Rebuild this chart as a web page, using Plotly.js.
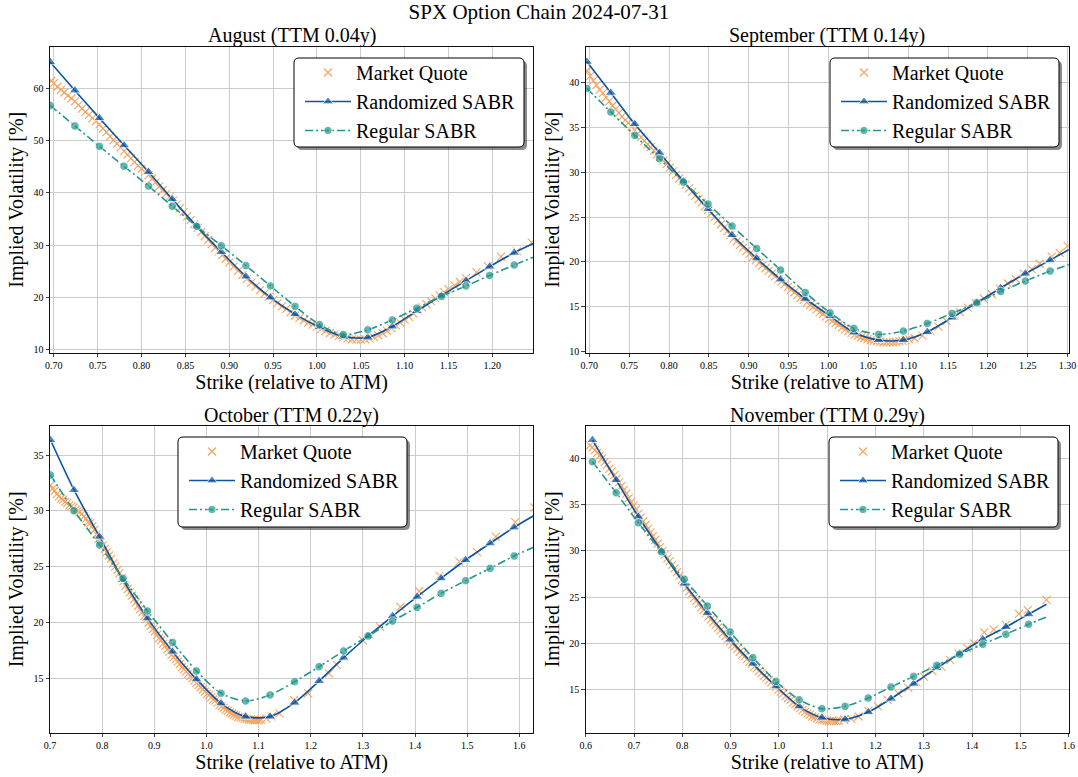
<!DOCTYPE html>
<html>
<head>
<meta charset="utf-8">
<script src="https://cdn.plot.ly/plotly-3.0.1.min.js"></script>
<style>html,body{margin:0;padding:0;background:#fff}</style>
</head>
<body>
<div id="chart" style="width:1078px;height:777px"></div>
<script>
// ---------------- DATA ----------------
const suptitleText = "SPX Option Chain 2024-07-31";
const panelTitles = ["August (TTM 0.04y)", "September (TTM 0.14y)", "October (TTM 0.22y)", "November (TTM 0.29y)"];
const seriesNames = ["Market Quote", "Randomized SABR", "Regular SABR"];
const xTitle = "Strike (relative to ATM)";
const yTitle = "Implied Volatility [%]";

// August
const augMarketStrike = [0.697,0.700,0.704,0.708,0.712,0.716,0.720,0.724,0.728,0.732,0.736,0.740,0.744,0.748,0.752,0.756,0.760,0.764,0.768,0.772,0.776,0.780,0.784,0.788,0.792,0.796,0.800,0.804,0.808,0.812,0.816,0.820,0.824,0.828,0.832,0.836,0.840,0.844,0.848,0.852,0.856,0.860,0.864,0.868,0.872,0.876,0.880,0.884,0.888,0.892,0.896,0.900,0.905,0.910,0.915,0.920,0.925,0.930,0.935,0.940,0.945,0.950,0.955,0.960,0.965,0.970,0.975,0.980,0.985,0.990,0.995,1.000,1.005,1.010,1.015,1.020,1.025,1.030,1.035,1.040,1.045,1.050,1.055,1.060,1.065,1.070,1.075,1.080,1.085,1.090,1.095,1.100,1.105,1.110,1.115,1.120,1.125,1.130,1.135,1.140,1.145,1.150,1.157,1.163,1.170,1.182,1.195,1.210,1.228,1.245];
const augMarketIV = [61.4,61.0,60.3,59.7,59.2,58.6,58.1,57.5,56.8,56.1,55.5,54.9,54.3,53.7,53.1,52.3,51.6,50.8,50.1,49.4,48.7,48.0,47.3,46.6,45.9,45.2,44.6,44.0,43.4,42.7,42.0,41.2,40.5,39.8,39.2,38.5,37.8,37.1,36.3,35.5,34.8,34.0,33.3,32.5,31.7,31.0,30.2,29.5,28.8,28.1,27.4,26.7,25.9,25.1,24.3,23.5,22.8,22.1,21.4,20.7,20.1,19.5,18.9,18.3,17.8,17.2,16.5,16.1,15.6,15.2,14.8,14.4,14.0,13.6,13.2,12.9,12.6,12.35,12.15,12.0,11.95,11.95,12.0,12.15,12.4,12.75,13.15,13.6,14.1,14.65,15.2,15.75,16.3,16.9,17.5,18.1,18.7,19.3,19.8,20.4,21.0,21.6,22.3,23.0,23.7,24.8,26.0,27.8,28.8,30.5];
const augModelStrike = [0.696,0.724,0.752,0.780,0.808,0.835,0.863,0.891,0.919,0.947,0.975,1.003,1.030,1.058,1.086,1.114,1.142,1.170,1.197,1.225,1.247];
const augRandIV = [65.0,59.6,54.3,49.1,44.0,38.8,33.6,28.7,24.0,20.0,16.8,14.3,12.5,12.35,14.45,17.4,20.35,23.2,25.9,28.55,30.3];
const augRegIV = [56.7,52.8,48.9,45.1,41.3,37.45,33.6,29.9,26.1,22.2,18.3,14.8,12.9,13.8,15.7,17.95,20.2,22.2,24.2,26.2,27.7];

// September
const sepMarketStrike = [0.697,0.701,0.705,0.709,0.713,0.717,0.721,0.725,0.729,0.733,0.737,0.741,0.745,0.749,0.753,0.757,0.761,0.765,0.769,0.773,0.777,0.781,0.785,0.789,0.793,0.797,0.801,0.805,0.809,0.813,0.817,0.821,0.825,0.829,0.833,0.837,0.841,0.845,0.849,0.853,0.857,0.861,0.865,0.869,0.873,0.877,0.881,0.885,0.889,0.893,0.897,0.901,0.905,0.909,0.913,0.917,0.921,0.925,0.929,0.933,0.937,0.941,0.945,0.949,0.953,0.957,0.961,0.965,0.969,0.973,0.977,0.981,0.985,0.989,0.993,0.997,1.001,1.005,1.009,1.013,1.017,1.021,1.025,1.029,1.033,1.037,1.041,1.045,1.049,1.053,1.057,1.061,1.065,1.069,1.073,1.077,1.081,1.085,1.089,1.093,1.097,1.101,1.108,1.118,1.128,1.138,1.148,1.158,1.165,1.175,1.185,1.195,1.205,1.215,1.225,1.235,1.245,1.255,1.265,1.280,1.290,1.300];
const sepMarketIV = [41.3,40.7,40.2,39.7,39.2,38.8,38.3,37.9,37.4,37.0,36.6,36.2,35.8,35.5,35.1,34.7,34.3,33.9,33.5,33.1,32.8,32.4,32.0,31.7,31.3,30.9,30.5,30.1,29.7,29.3,29.0,28.6,28.2,27.8,27.4,27.0,26.6,26.2,25.8,25.4,25.0,24.6,24.2,23.8,23.4,23.0,22.6,22.3,21.9,21.6,21.2,20.9,20.5,20.2,19.9,19.6,19.3,19.0,18.7,18.4,18.1,17.8,17.5,17.2,16.9,16.6,16.3,16.0,15.8,15.5,15.2,15.0,14.7,14.4,14.2,13.9,13.7,13.4,13.2,13.0,12.7,12.5,12.3,12.1,11.9,11.8,11.6,11.5,11.4,11.3,11.2,11.15,11.1,11.05,11.05,11.05,11.05,11.1,11.15,11.2,11.3,11.4,11.5,11.8,12.3,12.8,13.4,14.0,14.4,14.9,15.4,15.9,16.4,17.0,17.6,18.1,18.7,19.2,19.8,20.6,21.0,21.8];
const sepModelStrike = [0.697,0.727,0.757,0.788,0.818,0.849,0.879,0.910,0.940,0.971,1.002,1.032,1.063,1.094,1.124,1.155,1.186,1.216,1.247,1.278,1.302];
const sepRandIV = [42.3,38.85,35.36,32.16,29.0,25.9,23.0,20.4,18.05,15.9,13.97,12.15,11.3,11.3,12.2,13.8,15.45,17.1,18.7,20.2,21.4];
const sepRegIV = [39.33,36.7,34.1,31.5,28.9,26.45,24.0,21.5,19.1,16.6,14.34,12.6,11.93,12.3,13.15,14.27,15.45,16.7,17.87,18.98,19.7];

// October
const octMarketStrike = [0.701,0.705,0.709,0.713,0.717,0.721,0.725,0.729,0.733,0.737,0.741,0.745,0.749,0.753,0.757,0.761,0.765,0.769,0.773,0.777,0.781,0.785,0.789,0.793,0.797,0.801,0.805,0.809,0.813,0.817,0.821,0.825,0.829,0.833,0.837,0.841,0.845,0.849,0.853,0.857,0.861,0.865,0.869,0.873,0.877,0.881,0.885,0.889,0.893,0.897,0.901,0.905,0.909,0.913,0.917,0.921,0.925,0.929,0.933,0.937,0.941,0.945,0.949,0.953,0.957,0.961,0.965,0.969,0.973,0.977,0.981,0.985,0.989,0.993,0.997,1.001,1.005,1.009,1.013,1.017,1.021,1.025,1.029,1.033,1.037,1.041,1.045,1.049,1.053,1.057,1.061,1.065,1.069,1.073,1.077,1.081,1.085,1.089,1.093,1.097,1.101,1.105,1.115,1.125,1.140,1.168,1.195,1.235,1.250,1.300,1.333,1.372,1.408,1.447,1.485,1.519,1.555,1.592,1.629];
const octMarketIV = [32.3,32.0,31.8,31.5,31.3,31.1,31.0,30.8,30.7,30.5,30.4,30.3,30.1,30.0,29.9,29.7,29.5,29.3,29.0,28.9,28.6,28.3,27.9,27.5,27.2,26.9,26.6,26.3,26.0,25.7,25.3,25.0,24.7,24.4,24.0,23.7,23.3,23.0,22.7,22.4,22.1,21.8,21.5,21.2,20.9,20.6,20.3,20.0,19.7,19.4,19.2,18.9,18.6,18.4,18.1,17.9,17.6,17.4,17.1,16.9,16.7,16.5,16.3,16.0,15.8,15.6,15.4,15.2,15.0,14.8,14.6,14.4,14.2,14.0,13.8,13.6,13.5,13.3,13.1,13.0,12.8,12.6,12.5,12.35,12.2,12.1,11.95,11.85,11.75,11.65,11.55,11.5,11.45,11.4,11.35,11.3,11.3,11.25,11.25,11.25,11.25,11.3,11.4,11.6,11.87,13.06,13.66,15.45,16.2,18.4,19.6,21.4,22.8,24.2,25.45,26.3,27.7,29.0,30.3];
const octModelStrike = [0.701,0.746,0.795,0.840,0.887,0.935,0.981,1.028,1.075,1.122,1.169,1.216,1.263,1.310,1.357,1.404,1.450,1.497,1.544,1.590,1.630];
const octRandIV = [36.34,31.87,27.69,23.81,20.37,17.39,14.91,12.76,11.57,11.57,12.82,14.76,16.85,18.79,20.58,22.31,23.96,25.6,27.09,28.52,29.63];
const octRegIV = [33.21,30.01,26.94,23.96,21.03,18.22,15.66,13.66,12.97,13.51,14.7,16.04,17.45,18.79,20.13,21.36,22.61,23.75,24.85,25.96,26.79];

// November
const novMarketStrike = [0.609,0.614,0.619,0.624,0.629,0.634,0.639,0.644,0.649,0.654,0.659,0.664,0.669,0.674,0.679,0.684,0.689,0.694,0.699,0.704,0.709,0.714,0.719,0.724,0.729,0.734,0.739,0.744,0.749,0.754,0.759,0.764,0.769,0.774,0.779,0.784,0.789,0.794,0.799,0.804,0.809,0.814,0.819,0.824,0.829,0.834,0.839,0.844,0.849,0.854,0.859,0.864,0.869,0.874,0.879,0.884,0.889,0.894,0.899,0.904,0.909,0.914,0.919,0.924,0.929,0.934,0.939,0.944,0.949,0.954,0.959,0.964,0.969,0.974,0.979,0.984,0.989,0.994,0.999,1.004,1.009,1.014,1.019,1.024,1.029,1.034,1.039,1.044,1.049,1.054,1.059,1.064,1.069,1.074,1.079,1.084,1.089,1.094,1.099,1.104,1.109,1.114,1.119,1.124,1.135,1.150,1.165,1.185,1.205,1.225,1.247,1.268,1.285,1.300,1.318,1.336,1.355,1.372,1.390,1.404,1.425,1.445,1.470,1.497,1.515,1.554];
const novMarketIV = [41.4,41.2,40.9,40.6,40.3,40.0,39.6,39.3,38.9,38.6,38.2,37.8,37.4,37.0,36.6,36.2,35.7,35.3,34.9,34.5,34.0,33.6,33.2,32.8,32.4,32.0,31.6,31.2,30.8,30.4,30.0,29.6,29.2,28.9,28.5,28.1,27.7,27.3,26.9,26.5,26.0,25.6,25.3,24.9,24.6,24.3,23.9,23.6,23.3,22.9,22.6,22.3,22.0,21.7,21.4,21.1,20.8,20.5,20.2,19.9,19.7,19.4,19.1,18.8,18.6,18.3,18.0,17.8,17.5,17.3,17.0,16.8,16.5,16.3,16.0,15.8,15.5,15.3,15.0,14.8,14.6,14.3,14.1,13.9,13.6,13.4,13.2,13.0,12.8,12.6,12.4,12.3,12.1,12.0,11.9,11.8,11.75,11.7,11.65,11.6,11.6,11.6,11.6,11.65,11.75,11.85,12.1,12.7,13.2,13.9,14.6,15.2,15.8,16.4,17.0,17.5,18.2,18.9,19.5,20.0,21.2,21.5,22.0,23.2,23.6,24.7];
const novModelStrike = [0.614,0.663,0.709,0.757,0.804,0.852,0.899,0.946,0.994,1.042,1.089,1.137,1.185,1.232,1.279,1.327,1.374,1.422,1.470,1.517,1.554];
const novRandIV = [41.98,37.66,33.69,29.97,26.47,23.30,20.41,17.81,15.36,13.2,11.97,11.79,12.58,14.03,15.65,17.35,18.9,20.45,21.78,23.15,24.24];
const novRegIV = [39.64,36.28,33.04,29.9,26.94,24.05,21.24,18.46,15.9,13.92,12.94,13.2,14.1,15.29,16.44,17.63,18.82,19.91,20.99,22.07,22.86];

// ---------------- STYLE / LAYOUT ----------------
const W = 1078, H = 777;
const FONT = "Liberation Serif, Times New Roman, serif";
const C_MARKET = "#f5a461", C_RAND = "#0a54a3", C_REG = "#22968b";
const px = p => p / W;
const py = p => 1 - p / H;

const panels = [
  {ms: augMarketStrike, mv: augMarketIV, k: augModelStrike, r: augRandIV, g: augRegIV,
   box: [50, 533.3, 46.7, 352.7], xr: [0.6956, 1.2468], yr: [9.43, 67.96], dx: 0.05, fx: ".2f", dy: 10, leg: [294, 524, 58, 147]},
  {ms: sepMarketStrike, mv: sepMarketIV, k: sepModelStrike, r: sepRandIV, g: sepRegIV,
   box: [585.7, 1068.7, 46.7, 352.7], xr: [0.6955, 1.3014], yr: [9.89, 43.98], dx: 0.05, fx: ".2f", dy: 5, leg: [830, 1059, 58, 147]},
  {ms: octMarketStrike, mv: octMarketIV, k: octModelStrike, r: octRandIV, g: octRegIV,
   box: [50, 533.3, 426, 732.7], xr: [0.7, 1.6268], yr: [10.13, 37.6], dx: 0.1, fx: ".1f", dy: 5, leg: [178, 407, 437, 527]},
  {ms: novMarketStrike, mv: novMarketIV, k: novModelStrike, r: novRandIV, g: novRegIV,
   box: [585.7, 1068.7, 426, 732.7], xr: [0.6, 1.6], yr: [10.35, 43.5], dx: 0.1, fx: ".1f", dy: 5, leg: [829, 1058, 437, 527]}
];

function rrectPath(x0, x1, y0, y1, r) {
  const X = v => px(v).toFixed(5), Y = v => py(v).toFixed(5);
  return `M${X(x0 + r)},${Y(y0)} L${X(x1 - r)},${Y(y0)} Q${X(x1)},${Y(y0)} ${X(x1)},${Y(y0 + r)} ` +
         `L${X(x1)},${Y(y1 - r)} Q${X(x1)},${Y(y1)} ${X(x1 - r)},${Y(y1)} ` +
         `L${X(x0 + r)},${Y(y1)} Q${X(x0)},${Y(y1)} ${X(x0)},${Y(y1 - r)} ` +
         `L${X(x0)},${Y(y0 + r)} Q${X(x0)},${Y(y0)} ${X(x0 + r)},${Y(y0)} Z`;
}

const traces = [];
const layout = {
  width: W, height: H, autosize: false,
  margin: {l: 0, r: 0, t: 0, b: 0},
  paper_bgcolor: "#fff", plot_bgcolor: "#fff",
  font: {family: FONT, color: "#000"},
  title: {text: suptitleText, x: 0.5, xanchor: "center", y: py(12), yanchor: "middle",
          font: {family: FONT, size: 21, color: "#000"}},
  annotations: [], shapes: []
};

panels.forEach((p, i) => {
  const n = i + 1;
  const xa = "x" + (n === 1 ? "" : n), ya = "y" + (n === 1 ? "" : n);
  const legName = n === 1 ? "legend" : "legend" + n;
  const triSizes = p.k.map((_, j) => j === p.k.length - 1 ? 0 : 10);
  const cirSizes = p.k.map((_, j) => j === p.k.length - 1 ? 0 : 8.5);
  traces.push({
    type: "scatter", mode: "markers", x: p.ms, y: p.mv, xaxis: xa, yaxis: ya,
    name: seriesNames[0], legend: legName,
    marker: {symbol: "x-thin", size: 8, color: C_MARKET, line: {color: C_MARKET, width: 1.1}}
  });
  traces.push({
    type: "scatter", mode: "lines+markers", x: p.k, y: p.r, xaxis: xa, yaxis: ya,
    name: seriesNames[1], legend: legName,
    line: {color: C_RAND, width: 1.6, shape: "spline", smoothing: 0.8},
    marker: {symbol: "triangle-up", size: triSizes, color: C_RAND}
  });
  traces.push({
    type: "scatter", mode: "lines+markers", x: p.k, y: p.g, xaxis: xa, yaxis: ya,
    name: seriesNames[2], legend: legName,
    line: {color: C_REG, width: 1.6, shape: "spline", smoothing: 0.8, dash: "8px,3px,2px,3px"},
    marker: {symbol: "circle", size: cirSizes, color: C_REG}
  });

  const axCommon = {
    showline: true, mirror: true, linecolor: "#111", linewidth: 1,
    ticks: "outside", ticklen: 3.5, tickwidth: 0.8, tickcolor: "#111",
    showgrid: true, gridcolor: "#cccccc", gridwidth: 1, zeroline: false,
    tickfont: {family: FONT, size: 10, color: "#000"}, automargin: false
  };
  layout["xaxis" + (n === 1 ? "" : n)] = Object.assign({}, axCommon, {
    domain: [px(p.box[0]), px(p.box[1])], anchor: ya, range: p.xr,
    tick0: 0, dtick: p.dx, tickformat: p.fx,
    title: {text: xTitle, font: {family: FONT, size: 20, color: "#000"}, standoff: 3}
  });
  layout["yaxis" + (n === 1 ? "" : n)] = Object.assign({}, axCommon, {
    domain: [py(p.box[3]), py(p.box[2])], anchor: xa, range: p.yr,
    tick0: 0, dtick: p.dy,
    title: {text: yTitle, font: {family: FONT, size: 20, color: "#000"}, standoff: 4}
  });
  layout.annotations.push({
    text: panelTitles[i], xref: "paper", yref: "paper", showarrow: false,
    x: px((p.box[0] + p.box[1]) / 2), xanchor: "center", y: py(p.box[2] - 11), yanchor: "middle",
    font: {family: FONT, size: 20, color: "#000"}
  });
  const [lx0, lx1, ly0, ly1] = p.leg;
  layout.shapes.push({type: "path", xref: "paper", yref: "paper", layer: "above",
    path: rrectPath(lx0 + 3, lx1 + 3, ly0 + 3, ly1 + 3, 5), fillcolor: "rgba(0,0,0,0.45)", line: {width: 0}});
  layout.shapes.push({type: "path", xref: "paper", yref: "paper", layer: "above",
    path: rrectPath(lx0, lx1, ly0, ly1, 5), fillcolor: "#ffffff", line: {color: "#000", width: 1}});
  layout[legName] = {
    x: px(lx0 + 6), xanchor: "left", y: py(ly0 - 5), yanchor: "top",
    bgcolor: "rgba(0,0,0,0)", borderwidth: 0, itemwidth: 46,
    font: {family: FONT, size: 20, color: "#000"}, tracegroupgap: 0
  };
});

Plotly.newPlot("chart", traces, layout, {displayModeBar: false, staticPlot: true});
</script>
</body>
</html>
